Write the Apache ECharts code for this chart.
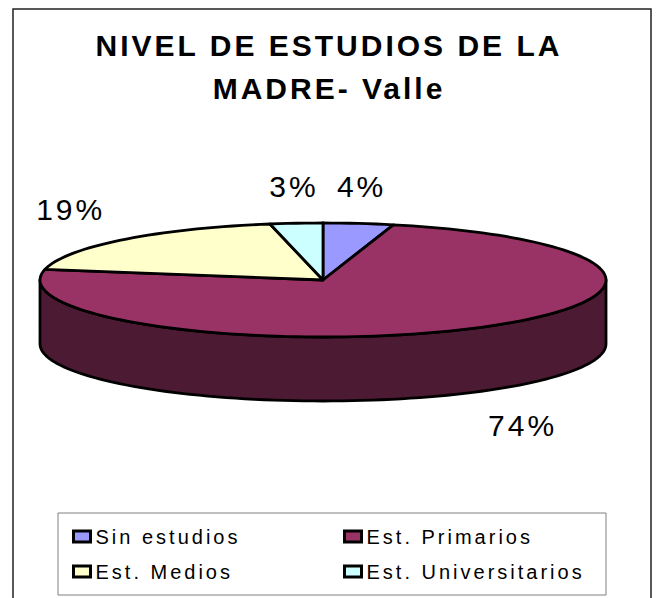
<!DOCTYPE html>
<html>
<head>
<meta charset="utf-8">
<script src="https://cdn.jsdelivr.net/npm/echarts@6/dist/echarts.min.js"></script>
<style>
  html, body { margin: 0; padding: 0; background: #fff; }
  #chart { width: 658px; height: 598px; }
  /* excel-ish wide letter spacing */
  #chart text { letter-spacing: 3px; }
</style>
</head>
<body>
<div id="chart"></div>
<script>
const categories = ['Sin estudios', 'Est. Primarios', 'Est. Medios', 'Est. Universitarios']
const values = [4, 74, 19, 3]
const topColors = ['#9999FF', '#993366', '#FFFFCC', '#CCFFFF']
const sideColors = ['#4D4D80', '#4D1A33', '#808066', '#668080']

const font = '"Liberation Sans", Arial, sans-serif'

// 3d pie geometry
const cx = 323
const cy = 280
const rx = 283
const ry = 57
const depth = 64

// angle: degrees clockwise from 12 o'clock
function pt (deg, dy) {
  const r = deg * Math.PI / 180
  return [cx + rx * Math.sin(r), cy - ry * Math.cos(r) + dy]
}

function arc (from, to, dy) {
  const n = Math.max(2, Math.ceil(Math.abs(to - from) / 2) + 1)
  let pts = []
  for (let k = 0; k < n; k++) {
    pts.push(pt(from + (to - from) * k / (n - 1), dy))
  }
  return pts
}

function renderSlice (idx) {
  return function (params, api) {
    const total = values.reduce((a, b) => a + b, 0)
    let before = 0
    for (let k = 0; k < idx; k++) before += values[k]
    const a0 = before / total * 360
    const a1 = (before + api.value(0)) / total * 360
    const line = { stroke: '#000', lineWidth: 2.8, lineJoin: 'round' }
    let children = []
    // only the front half of the wall is visible
    const w0 = Math.max(a0, 90)
    const w1 = Math.min(a1, 270)
    if (w1 > w0) {
      children.push({
        type: 'polygon',
        shape: { points: arc(w0, w1, 0).concat(arc(w1, w0, depth)) },
        style: Object.assign({ fill: sideColors[idx] }, line)
      })
    }
    children.push({
      type: 'polygon',
      shape: { points: [[cx, cy]].concat(arc(a0, a1, 0)) },
      style: Object.assign({ fill: topColors[idx] }, line)
    })
    // percent label outside the slice
    const mid = (a0 + a1) / 2 * Math.PI / 180
    const s = Math.sin(mid)
    const c = Math.cos(mid)
    const lx = cx + (rx + 25) * s
    const ly = cy - (ry + 22) * c + (c < 0 ? depth : 0)
    children.push({
      type: 'text',
      x: lx,
      y: ly,
      style: {
        text: Math.round(api.value(0) / total * 100) + '%',
        fontSize: 30,
        fontFamily: font,
        fill: '#000',
        align: s * 2.5 > 0.33 ? 'left' : (s * 2.5 < -0.33 ? 'right' : 'center'),
        verticalAlign: c * 2.5 > 0.33 ? 'bottom' : (c * 2.5 < -0.33 ? 'top' : 'middle')
      }
    })
    return { type: 'group', children: children }
  }
}

const legendBase = {
  orient: 'vertical',
  top: 519,
  padding: 0,
  itemGap: 0,
  itemWidth: 17,
  itemHeight: 11,
  icon: 'rect',
  selectedMode: false,
  itemStyle: { borderColor: '#000', borderWidth: 3 },
  textStyle: { fontSize: 20, fontFamily: font, color: '#000', lineHeight: 35 }
}

const option = {
  animation: false,
  backgroundColor: '#fff',
  title: {
    text: 'NIVEL DE ESTUDIOS DE LA\nMADRE- Valle',
    left: 'center',
    top: 24,
    padding: 0,
    textStyle: { fontSize: 30, fontWeight: 'bold', fontFamily: font, color: '#000', lineHeight: 43 }
  },
  graphic: [
    {
      type: 'rect',
      shape: { x: 13, y: 9, width: 638, height: 640 },
      style: { fill: 'none', stroke: '#222', lineWidth: 1.5 },
      silent: true
    },
    {
      type: 'rect',
      shape: { x: 58, y: 513, width: 548, height: 82 },
      style: { fill: '#fff', stroke: '#808080', lineWidth: 1 },
      silent: true
    }
  ],
  legend: [
    Object.assign({ left: 72, data: [categories[0], categories[2]] }, legendBase),
    Object.assign({ left: 343, data: [categories[1], categories[3]] }, legendBase)
  ],
  series: categories.map((name, i) => ({
    type: 'custom',
    name: name,
    coordinateSystem: 'none',
    itemStyle: { color: topColors[i], borderColor: '#000', borderWidth: 3 },
    renderItem: renderSlice(i),
    data: [values[i]]
  }))
}

const chart = echarts.init(document.getElementById('chart'), null, { renderer: 'svg' })
chart.setOption(option)
</script>
</body>
</html>
